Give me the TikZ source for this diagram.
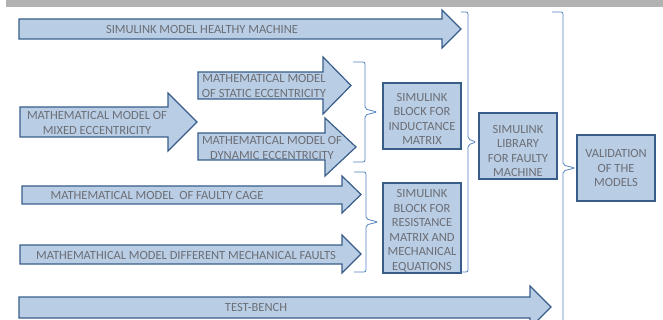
\documentclass[tikz,border=0pt]{standalone}
\usepackage{fontspec}
\setmainfont{Carlito}
\usetikzlibrary{positioning}
\definecolor{ArrowFill}{RGB}{185,205,228}
\definecolor{EdgeBlue}{RGB}{56,93,138}
\definecolor{BraceBlue}{RGB}{79,129,189}
\definecolor{TextGray}{RGB}{108,110,118}
\definecolor{BarGray}{RGB}{178,178,178}
\tikzset{
  fatarrow/.style={draw=EdgeBlue,fill=ArrowFill,line width=1.2pt,line join=miter},
  arrowtext/.style={inner sep=0pt,align=center,text=TextGray,font=\fontsize{12.5}{14.5}\selectfont},
  blockbox/.style={draw=EdgeBlue,fill=ArrowFill,line width=1.2pt,minimum width=78pt,minimum height=66pt,inner sep=0pt,align=center,text=TextGray,font=\fontsize{12.5}{14.5}\selectfont},
  braceline/.style={draw=BraceBlue,line width=0.8pt,rounded corners=2pt}
}
% block arrow: left, body top, body bottom, head base, head top, head bottom, tip
\newcommand\blockarrow[7]{%
  \draw[fatarrow] (#1,#2) -- (#4,#2) -- (#4,#5) -- (#7,{(#5+#6)/2}) -- (#4,#6) -- (#4,#3) -- (#1,#3) -- cycle;}
% closing brace: hook x, line x, top, bottom, middle, tip x
\newcommand\closebrace[6]{%
  \draw[braceline] (#1,#3) -- (#2,#3) -- (#2,{#5-3}) -- (#6,#5) -- (#2,{#5+3}) -- (#2,#4) -- (#1,#4);}
% extra room above the first line of a block text
\newcommand\topgap[1]{\rule{0pt}{#1}}

\begin{document}
\begin{tikzpicture}[x=1pt,y=-1pt]
\useasboundingbox (0,0) rectangle (663,320);
\fill[BarGray] (6,0) rectangle (663,7);

% input arrows
\blockarrow{19}{19}{39}{442}{10}{48}{461}
\node[arrowtext] (healthy) at (202,29) {SIMULINK MODEL HEALTHY MACHINE};
\blockarrow{20}{107}{137}{168}{93}{151}{197}
\node[arrowtext] (mixed) at (97,123) {MATHEMATICAL MODEL OF\\MIXED ECCENTRICITY};
\blockarrow{198}{72}{99}{323}{57}{114}{351}
\node[arrowtext] (static) at (264,86) {MATHEMATICAL MODEL\\OF STATIC ECCENTRICITY};
\blockarrow{198}{133}{160}{325}{118}{176}{356}
\node[arrowtext] (dynamic) at (272,148) {MATHEMATICAL MODEL OF\\DYNAMIC ECCENTRICITY};
\blockarrow{22}{186}{204}{342}{176}{213}{361}
\node[arrowtext] (cage) at (157,195) {MATHEMATICAL MODEL\ \ OF FAULTY CAGE};
\blockarrow{20}{245}{264}{342}{235}{273}{361}
\node[arrowtext] (mech) at (186,255) {MATHEMATHICAL MODEL DIFFERENT MECHANICAL FAULTS};
\blockarrow{19}{297}{318}{530}{286}{328}{551}
\node[arrowtext] (bench) at (256,307) {TEST-BENCH};

% simulink blocks
\node[blockbox] (ind) at (422,116) {\topgap{14pt}SIMULINK\\BLOCK FOR\\INDUCTANCE\\MATRIX};
\node[blockbox, minimum height=90pt] (res) at (422,228) {\topgap{14pt}SIMULINK\\BLOCK FOR\\RESISTANCE\\MATRIX AND\\MECHANICAL\\EQUATIONS};
\node[blockbox] (lib) at (518,146) {\topgap{18pt}SIMULINK\\LIBRARY\\FOR FAULTY\\MACHINE};
\node[blockbox] (valid) at (616,168) {VALIDATION\\OF THE\\MODELS};

% braces
\closebrace{353}{365}{62}{162}{112}{377}
\closebrace{354}{366}{172}{272}{222}{378}
\closebrace{461}{468}{12}{272}{142}{476}
\closebrace{552}{563}{12}{340}{168}{575}
\end{tikzpicture}
\end{document}
